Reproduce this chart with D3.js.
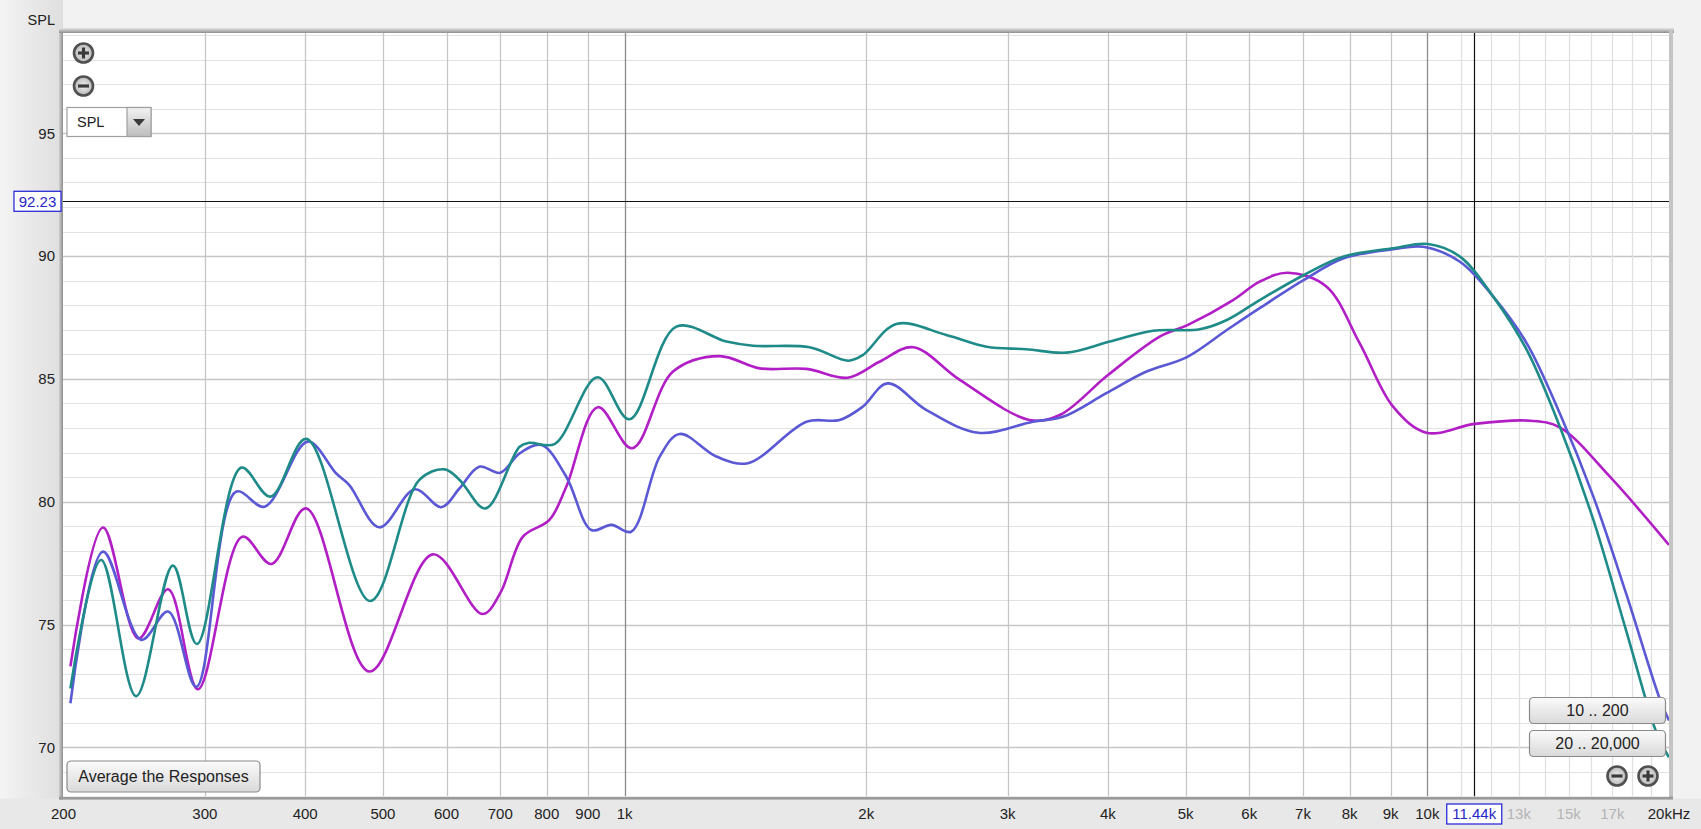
<!DOCTYPE html>
<html>
<head>
<meta charset="utf-8">
<script src="https://cdn.jsdelivr.net/npm/d3@7"></script>
<style>
  html, body { margin: 0; padding: 0; background: #efefef; overflow: hidden; }
  svg { display: block; }
  text { font-family: "Liberation Sans", Arial, sans-serif; }
</style>
</head>
<body>
<script>
// ---------------- DATA ----------------
const tealFreq = [204, 222.8, 246.3, 273.7, 293.2, 333, 362, 401.3, 482, 555, 597, 623, 671, 740, 761, 818, 925, 1014, 1160, 1339, 1445, 1700, 1900, 1980, 2180, 2516, 2825, 3164, 3552, 4020, 4552, 5206, 5626, 6182, 7019, 7866, 9064, 10020, 10980, 12080, 13300, 14620, 16100, 17680, 19340, 20000];
const tealSpl  = [72.4, 77.63, 72.09, 77.4, 74.21, 81.39, 80.21, 82.56, 75.96, 80.89, 81.32, 80.89, 79.73, 82.24, 82.4, 82.35, 85.07, 83.36, 87.13, 86.52, 86.35, 86.29, 85.74, 85.97, 87.24, 86.79, 86.31, 86.21, 86.07, 86.52, 86.96, 87.02, 87.4, 88.21, 89.23, 89.98, 90.32, 90.49, 89.98, 88.35, 86.18, 83.06, 79.26, 74.78, 70.51, 69.6];

const blueFreq = [204, 224, 250, 270, 292.7, 328, 356, 403, 437, 454, 495, 548, 591, 623, 659, 700, 740, 788, 846, 909, 963, 1019, 1106, 1171, 1301, 1424, 1685, 1853, 1980, 2126, 2375, 2758, 3226, 3517, 3982, 4468, 5011, 5626, 6182, 7019, 7866, 9064, 9880, 10980, 12080, 13300, 14620, 16100, 17680, 19500, 20000];
const blueSpl  = [71.8, 77.97, 74.38, 75.53, 72.47, 80.41, 79.8, 82.45, 81.16, 80.68, 78.96, 80.51, 79.78, 80.55, 81.43, 81.18, 81.97, 82.31, 81.02, 78.85, 79.06, 78.78, 81.84, 82.76, 81.84, 81.57, 83.26, 83.33, 83.87, 84.82, 83.74, 82.81, 83.26, 83.46, 84.42, 85.3, 85.88, 86.99, 87.88, 89.03, 89.91, 90.28, 90.38, 89.77, 88.35, 86.45, 83.6, 80.21, 76.28, 71.93, 71.1];

const magentaFreq = [204, 224, 248, 270, 294, 334, 363, 401, 481, 577, 665, 700, 747, 806, 846, 926, 1022, 1149, 1313, 1473, 1685, 1897, 2078, 2287, 2615, 3195, 3483, 4001, 4641, 5033, 5728, 6182, 6706, 7485, 8237, 9064, 9975, 11460, 13420, 14620, 16880, 20000];
const magentaSpl  = [73.3, 78.95, 74.44, 76.44, 72.37, 78.58, 77.47, 79.73, 73.09, 77.86, 75.43, 76.28, 78.58, 79.26, 80.61, 83.85, 82.18, 85.3, 85.93, 85.43, 85.41, 85.05, 85.7, 86.29, 84.96, 83.33, 83.53, 85.16, 86.72, 87.2, 88.21, 88.96, 89.32, 88.76, 86.45, 83.87, 82.81, 83.17, 83.3, 83.03, 81.02, 78.24];

const seriesNames = ["magenta", "blue", "teal"];

// axis / tick labels
const xTickValues = [200, 300, 400, 500, 600, 700, 800, 900, 1000, 2000, 3000, 4000, 5000, 6000, 7000, 8000, 9000, 10000, 13000, 15000, 17000, 20000];
const xTickLabels = ["200", "300", "400", "500", "600", "700", "800", "900", "1k", "2k", "3k", "4k", "5k", "6k", "7k", "8k", "9k", "10k", "13k", "15k", "17k", "20kHz"];
const xTickFaded  = [13000, 15000, 17000];
const yTickValues = [70, 75, 80, 85, 90, 95];
const gridFreqsMid   = [300, 400, 500, 600, 700, 800, 900, 2000, 3000, 4000, 5000, 6000, 7000, 8000, 9000];
const gridFreqsMajor = [1000, 10000];
const gridFreqsFine  = [11000, 12000, 13000, 14000, 15000, 16000, 17000, 18000, 19000];
const gridDbAll = [69, 70, 71, 72, 73, 74, 75, 76, 77, 78, 79, 80, 81, 82, 83, 84, 85, 86, 87, 88, 89, 90, 91, 92, 93, 94, 95, 96, 97, 98, 99];

const cursorFreq = 11440, cursorFreqLabel = "11.44k";
const cursorSpl = 92.23, cursorSplLabel = "92.23";
const xDomain = [200, 20000];
const yDomain = [68, 99.08];

// ---------------- LAYOUT ----------------
const W = 1701, H = 829;
const L = 63, R = 1669, T = 33, B = 796.6;

const svg = d3.select("body").append("svg").attr("width", W).attr("height", H);
const defs = svg.append("defs");

const gLeft = defs.append("linearGradient").attr("id", "leftbg").attr("x1", 0).attr("x2", 1).attr("y1", 0).attr("y2", 0);
gLeft.append("stop").attr("offset", "0%").attr("stop-color", "#f4f4f4");
gLeft.append("stop").attr("offset", "100%").attr("stop-color", "#dedede");
const gBtn = defs.append("linearGradient").attr("id", "btn").attr("x1", 0).attr("x2", 0).attr("y1", 0).attr("y2", 1);
gBtn.append("stop").attr("offset", "0%").attr("stop-color", "#fbfbfb");
gBtn.append("stop").attr("offset", "100%").attr("stop-color", "#d9d9d9");
const gTop = defs.append("linearGradient").attr("id", "topband").attr("x1", 0).attr("x2", 0).attr("y1", 0).attr("y2", 1);
gTop.append("stop").attr("offset", "0%").attr("stop-color", "#e6e6e6");
gTop.append("stop").attr("offset", "100%").attr("stop-color", "#8e8e8e");
const gLeftBand = defs.append("linearGradient").attr("id", "leftband").attr("x1", 0).attr("x2", 1).attr("y1", 0).attr("y2", 0);
gLeftBand.append("stop").attr("offset", "0%").attr("stop-color", "#d0d0d0");
gLeftBand.append("stop").attr("offset", "100%").attr("stop-color", "#8e8e8e");
const gArrow = defs.append("linearGradient").attr("id", "arrowbtn").attr("x1", 0).attr("x2", 0).attr("y1", 0).attr("y2", 1);
gArrow.append("stop").attr("offset", "0%").attr("stop-color", "#f2f2f2");
gArrow.append("stop").attr("offset", "100%").attr("stop-color", "#bdbdbd");
const gIcon = defs.append("radialGradient").attr("id", "icon");
gIcon.append("stop").attr("offset", "0%").attr("stop-color", "#f0f0f0");
gIcon.append("stop").attr("offset", "100%").attr("stop-color", "#b8b8b8");

defs.append("clipPath").attr("id", "plotclip").append("rect")
  .attr("x", L).attr("y", T).attr("width", R - L).attr("height", B - T);

// backgrounds
svg.append("rect").attr("x", 0).attr("y", 0).attr("width", W).attr("height", H).attr("fill", "#f2f2f2");
svg.append("rect").attr("x", 0).attr("y", 0).attr("width", L).attr("height", H).attr("fill", "url(#leftbg)");
svg.append("rect").attr("x", 0).attr("y", B + 2).attr("width", W).attr("height", H - B).attr("fill", "#e8e8e8");

// frame
svg.append("rect").attr("x", L - 4).attr("y", T - 5).attr("width", R - L + 9).attr("height", 5).attr("fill", "url(#topband)");
svg.append("rect").attr("x", L - 4).attr("y", T).attr("width", 4).attr("height", B - T + 3).attr("fill", "url(#leftband)");
svg.append("rect").attr("x", R).attr("y", T - 3).attr("width", 4).attr("height", B - T + 5).attr("fill", "#c4c4c4");
svg.append("rect").attr("x", L - 4).attr("y", B).attr("width", R - L + 8).attr("height", 3).attr("fill", "#9a9a9a");
svg.append("rect").attr("x", L).attr("y", T).attr("width", R - L).attr("height", B - T).attr("fill", "#ffffff");

// scales
const x = d3.scaleLog().domain(xDomain).range([L + 0.5, R]);
const y = d3.scaleLinear().domain(yDomain).range([B, T]);

const plot = svg.append("g").attr("clip-path", "url(#plotclip)");

// horizontal grid
plot.selectAll("line.hg").data(gridDbAll).enter().append("line")
  .attr("x1", L).attr("x2", R)
  .attr("y1", d => Math.round(y(d)) + 0.5).attr("y2", d => Math.round(y(d)) + 0.5)
  .attr("stroke", d => d % 5 === 0 ? "#c6c6c6" : "#e2e2e2").attr("stroke-width", d => d % 5 === 0 ? 1.3 : 1.2);

// vertical grid
plot.selectAll("line.vf").data(gridFreqsFine).enter().append("line")
  .attr("x1", d => Math.round(x(d)) + 0.5).attr("x2", d => Math.round(x(d)) + 0.5)
  .attr("y1", T).attr("y2", B).attr("stroke", "#e0e0e0").attr("stroke-width", 1.3);
plot.selectAll("line.vm").data(gridFreqsMid).enter().append("line")
  .attr("x1", d => Math.round(x(d)) + 0.5).attr("x2", d => Math.round(x(d)) + 0.5)
  .attr("y1", T).attr("y2", B).attr("stroke", "#c6c6c6").attr("stroke-width", 1.3);
plot.selectAll("line.vM").data(gridFreqsMajor).enter().append("line")
  .attr("x1", d => Math.round(x(d)) + 0.5).attr("x2", d => Math.round(x(d)) + 0.5)
  .attr("y1", T).attr("y2", B).attr("stroke", "#8c8c8c").attr("stroke-width", 1.3);

// cursor lines
plot.append("line").attr("x1", L).attr("x2", R)
  .attr("y1", Math.round(y(cursorSpl)) + 0.5).attr("y2", Math.round(y(cursorSpl)) + 0.5)
  .attr("stroke", "#111").attr("stroke-width", 1.2);
plot.append("line").attr("y1", T).attr("y2", B)
  .attr("x1", Math.round(x(cursorFreq)) + 0.5).attr("x2", Math.round(x(cursorFreq)) + 0.5)
  .attr("stroke", "#111").attr("stroke-width", 1.2);

// series
const series = {
  magenta: { f: magentaFreq, v: magentaSpl, color: "#b21ec6" },
  blue:    { f: blueFreq,    v: blueSpl,    color: "#5a58d4" },
  teal:    { f: tealFreq,    v: tealSpl,    color: "#1f8b88" }
};
const line = d3.line().x(d => x(d[0])).y(d => y(d[1])).curve(d3.curveCatmullRom.alpha(0.5));
seriesNames.forEach(name => {
  const s = series[name];
  const pts = s.f.map((f, i) => [f, s.v[i]]);
  plot.append("path").attr("d", line(pts)).attr("fill", "none")
    .attr("stroke", s.color).attr("stroke-width", 2.6).attr("stroke-linejoin", "round");
});

// y axis labels
svg.selectAll("text.yt").data(yTickValues).enter().append("text")
  .attr("x", 55).attr("y", d => y(d)).attr("dy", "0.36em")
  .attr("text-anchor", "end").attr("font-size", 15).attr("fill", "#222").text(d => d);
svg.append("text").attr("x", 55).attr("y", 20).attr("dy", "0.36em").attr("text-anchor", "end")
  .attr("font-size", 14.5).attr("fill", "#222").text("SPL");

// x axis labels
svg.selectAll("text.xt").data(xTickValues).enter().append("text")
  .attr("x", d => x(d)).attr("y", 814).attr("dy", "0.36em")
  .attr("text-anchor", "middle").attr("font-size", 15)
  .attr("fill", d => xTickFaded.includes(d) ? "#b4b4b4" : "#222")
  .text((d, i) => xTickLabels[i]);

// cursor value boxes
function valueBox(cx, cy, w, h, label) {
  svg.append("rect").attr("x", cx - w / 2).attr("y", cy - h / 2).attr("width", w).attr("height", h)
    .attr("fill", "#ffffff").attr("stroke", "#2b2bd9").attr("stroke-width", 1.3);
  svg.append("text").attr("x", cx).attr("y", cy).attr("dy", "0.36em").attr("text-anchor", "middle")
    .attr("font-size", 15).attr("fill", "#2626c8").text(label);
}
valueBox(37.5, y(cursorSpl), 47, 20, cursorSplLabel);
valueBox(x(cursorFreq), 814, 55, 20, cursorFreqLabel);

// zoom icons
function zoomIcon(cx, cy, plus) {
  const g = svg.append("g");
  g.append("circle").attr("cx", cx).attr("cy", cy).attr("r", 9.5)
    .attr("fill", "url(#icon)").attr("stroke", "#505050").attr("stroke-width", 2.6);
  g.append("line").attr("x1", cx - 5.5).attr("x2", cx + 5.5).attr("y1", cy).attr("y2", cy)
    .attr("stroke", "#3a3a3a").attr("stroke-width", 3.2);
  if (plus) g.append("line").attr("x1", cx).attr("x2", cx).attr("y1", cy - 5.5).attr("y2", cy + 5.5)
    .attr("stroke", "#3a3a3a").attr("stroke-width", 3.2);
}
zoomIcon(83.5, 53, true);
zoomIcon(83.5, 86, false);
zoomIcon(1617, 776, false);
zoomIcon(1648, 776, true);

// SPL dropdown
svg.append("rect").attr("x", 67).attr("y", 107.5).attr("width", 84).attr("height", 29)
  .attr("fill", "#ffffff").attr("stroke", "#a0a0a0").attr("stroke-width", 1.2);
svg.append("rect").attr("x", 127).attr("y", 107.5).attr("width", 24).attr("height", 29)
  .attr("fill", "url(#arrowbtn)").attr("stroke", "#a0a0a0").attr("stroke-width", 1.2);
svg.append("path").attr("d", "M133,119 L145,119 L139,126 Z").attr("fill", "#3a3a3a");
svg.append("text").attr("x", 77).attr("y", 122).attr("dy", "0.36em").attr("font-size", 14.5)
  .attr("fill", "#222").text("SPL");

// buttons
function button(x0, y0, w, h, label, fs) {
  svg.append("rect").attr("x", x0).attr("y", y0).attr("width", w).attr("height", h).attr("rx", 4).attr("ry", 4)
    .attr("fill", "url(#btn)").attr("stroke", "#8a8a8a").attr("stroke-width", 1.2);
  svg.append("text").attr("x", x0 + w / 2).attr("y", y0 + h / 2).attr("dy", "0.36em")
    .attr("text-anchor", "middle").attr("font-size", fs).attr("fill", "#222").text(label);
}
button(67, 761, 193, 31, "Average the Responses", 16);
button(1529.5, 697.5, 136, 26, "10 .. 200", 16);
button(1529.5, 730.5, 136, 26, "20 .. 20,000", 16);
</script>
</body>
</html>
